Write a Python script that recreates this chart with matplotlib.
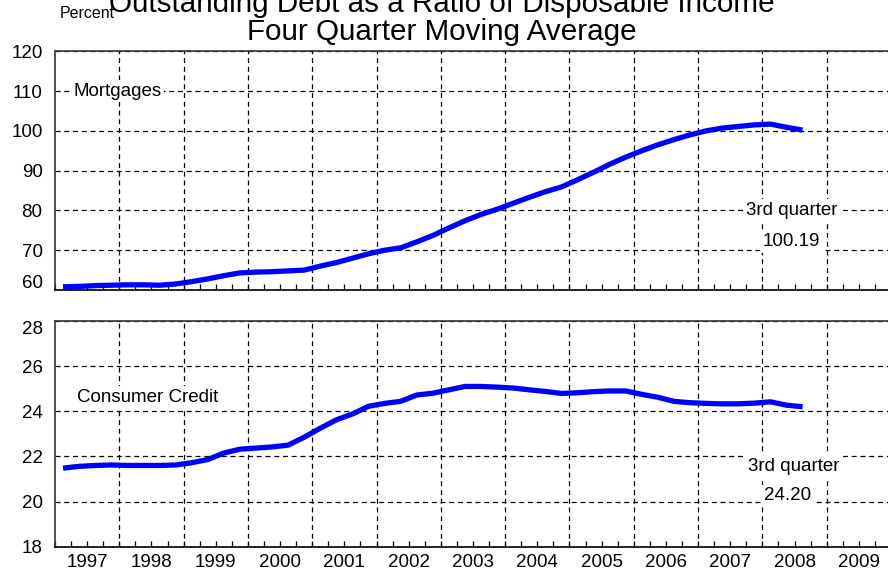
import matplotlib.pyplot as plt
import matplotlib.transforms as mtransforms
import numpy as np

plt.rcParams['font.family'] = ['Liberation Sans', 'DejaVu Sans']

# quarterly data, 1997Q1 .. 2008Q3
mortgages = [60.8, 60.9, 61.1, 61.2,
             61.3, 61.3, 61.2, 61.5,
             62.1, 62.8, 63.6, 64.3,
             64.5, 64.6, 64.8, 65.0,
             66.0, 66.9, 68.0, 69.1,
             70.0, 70.6, 72.1, 73.7,
             75.6, 77.4, 79.0, 80.3,
             81.8, 83.3, 84.7, 85.9,
             87.7, 89.6, 91.6, 93.4,
             95.0, 96.5, 97.8, 99.0,
             100.0, 100.7, 101.1, 101.5,
             101.7, 100.9, 100.19]
consumer = [21.48, 21.56, 21.60, 21.62,
            21.60, 21.60, 21.60, 21.62,
            21.72, 21.86, 22.15, 22.32,
            22.37, 22.42, 22.50, 22.85,
            23.25, 23.62, 23.88, 24.22,
            24.35, 24.44, 24.72, 24.80,
            24.95, 25.10, 25.10, 25.07,
            25.03, 24.95, 24.88, 24.79,
            24.82, 24.87, 24.90, 24.90,
            24.75, 24.62, 24.44, 24.38,
            24.35, 24.33, 24.33, 24.36,
            24.42, 24.27, 24.20]
years = list(range(1997, 2010))
t = 1997.125 + 0.25 * np.arange(len(mortgages))

fig = plt.figure(figsize=(8.88, 5.69), dpi=100)
ax1 = fig.add_axes([55/888, 1 - 290/569, 836/888, (290 - 51.3)/569])
ax2 = fig.add_axes([55/888, 1 - 546.7/569, 836/888, (546.7 - 321)/569])

fs = 13.5


def style(ax, yt, ylim):
    ax.set_xlim(1997, 2010)
    ax.set_ylim(*ylim)
    ax.set_yticks(yt)
    ax.yaxis.grid(True, color='black', linestyle=(0, (4, 3)), linewidth=0.9)
    for y in years[1:]:
        ax.axvline(y, color='black', linestyle=(0, (4, 3)), linewidth=0.9, zorder=1)
    ax.set_xticks([y + 0.5 for y in years])
    ax.set_xticks(np.arange(1997, 2010, 0.25), minor=True)
    ax.tick_params(axis='x', which='both', direction='in', length=4, width=0.9,
                   color='black', labelsize=fs, pad=5)
    ax.tick_params(axis='y', length=0, labelsize=fs, pad=9)
    ax.spines['right'].set_visible(False)
    ax.spines['bottom'].set_linewidth(1.2)
    for s in ('left', 'top'):
        ax.spines[s].set_linestyle((0, (2, 1)))
        ax.spines[s].set_color('#333333')
        ax.spines[s].set_linewidth(1.2)


style(ax1, [60, 70, 80, 90, 100, 110, 120], (60, 120))
style(ax2, [18, 20, 22, 24, 26, 28], (18, 28))
ax1.set_xticklabels([])
ax2.set_xticklabels([str(y) for y in years])

ax1.plot(t, mortgages, color='#0000ff', linewidth=3.8, solid_capstyle='butt', zorder=3)
ax2.plot(t, consumer, color='#0000ff', linewidth=3.8, solid_capstyle='butt', zorder=3)

# nudge the edge tick labels inside the frame
fig.canvas.draw()
ax1.get_yticklabels()[0].set_transform(
    ax1.get_yticklabels()[0].get_transform() + mtransforms.ScaledTranslation(0, 8/100, fig.dpi_scale_trans))
ax2.get_yticklabels()[-1].set_transform(
    ax2.get_yticklabels()[-1].get_transform() + mtransforms.ScaledTranslation(0, -7/100, fig.dpi_scale_trans))

box = dict(facecolor='white', edgecolor='none', pad=2)
ax1.text(1997.28, 110, 'Mortgages', fontsize=fs, va='center', ha='left', bbox=box, zorder=4)
ax2.text(1997.34, 24.6, 'Consumer Credit', fontsize=fs, va='center', ha='left', bbox=box, zorder=4)
ax1.text(2008.45, 80, '3rd quarter', fontsize=fs, va='center', ha='center', bbox=box, zorder=4)
ax1.text(2008.45, 72.2, '100.19', fontsize=fs, va='center', ha='center', bbox=box, zorder=4)
ax2.text(2008.49, 21.55, '3rd quarter', fontsize=fs, va='center', ha='center', bbox=box, zorder=4)
ax2.text(2008.39, 20.25, '24.20', fontsize=fs, va='center', ha='center', bbox=box, zorder=4)

fig.text(442/888, 1 - 12/569, 'Outstanding Debt as a Ratio of Disposable Income',
         fontsize=21.3, ha='center', va='baseline')
fig.text(442/888, 1 - 40/569, 'Four Quarter Moving Average',
         fontsize=21.3, ha='center', va='baseline')
fig.text(60/888, 1 - 13/569, 'Percent', fontsize=11.5, ha='left', va='center')

fig.savefig('out.png', dpi=100)
